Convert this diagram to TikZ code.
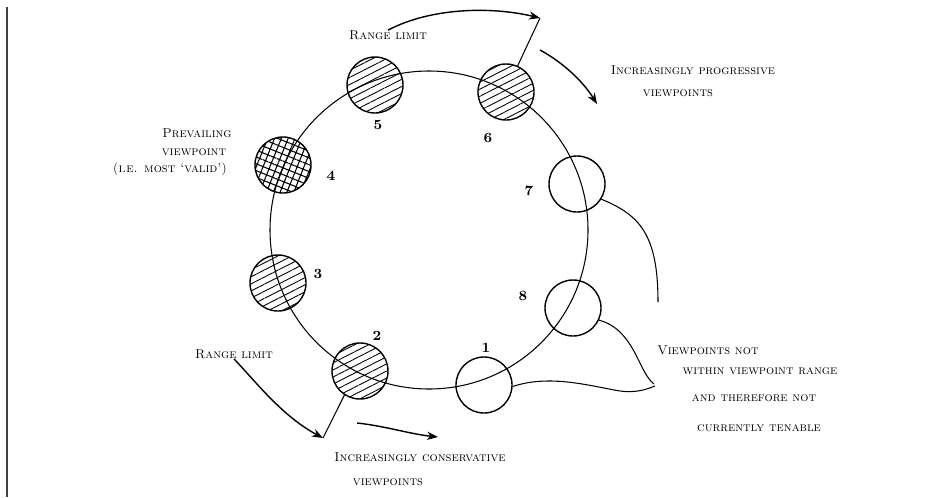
\documentclass[tikz,border=0pt]{standalone}
\usepackage{fontspec}
\usepackage{tikz}
\usetikzlibrary{arrows.meta,patterns.meta}
\newcommand\handfont{\fontsize{7.3}{8}\selectfont\scshape\addfontfeatures{LetterSpace=12,WordSpace=2.6}}
\tikzset{
  vp/.style={circle, draw=black, line width=0.8pt, minimum size=11.2mm, inner sep=0pt},
  hatched/.style={vp, pattern={Lines[angle=27,distance=3.6pt,line width=0.5pt]}},
  crossed/.style={vp, pattern={Hatch[angle=-22,distance=3.6pt,line width=0.6pt]}},
  num/.style={font=\footnotesize\bfseries, inner sep=0pt},
  note/.style={font=\handfont, inner sep=0pt},
  arr/.style={-{Stealth[length=2.2mm]}, thick},
  link/.style={line width=0.6pt},
}
\begin{document}
\begin{tikzpicture}[x=0.2mm,y=-0.2mm]
  \useasboundingbox (0,0) rectangle (925,497);
  % page edge
  \draw[black!75,line width=0.5mm] (7,7) -- (7,497);
  % the range of viewpoints
  \draw[line width=0.6pt] (429,230) circle[radius=31.8mm];
  \node[hatched] (v2) at (360,371) {};
  \node[hatched] (v3) at (278,283) {};
  \node[crossed] (v4) at (283,165) {};
  \node[hatched] (v5) at (375,85) {};
  \node[hatched] (v6) at (506,92) {};
  \node[vp] (v7) at (577,184) {};
  \node[vp] (v8) at (573,308) {};
  \node[vp] (v1) at (484,385) {};
  \node[num] (n1) at (486,348) {1};
  \node[num] (n2) at (377,336) {2};
  \node[num] (n3) at (318,274) {3};
  \node[num] (n4) at (331,176) {4};
  \node[num] (n5) at (378,125) {5};
  \node[num] (n6) at (488,138) {6};
  \node[num] (n7) at (529,191) {7};
  \node[num] (n8) at (523,296) {8};
  % upper range limit
  \node[note] (limtop) at (388,35) {Range limit};
  \coordinate (topend) at (540,18);
  \draw[arr] (limtop.north) .. controls (430,8) and (490,6) .. (topend);
  \draw[link] (v6.66) -- (topend);
  \coordinate (progA) at (540,50);
  \coordinate (progB) at (597,104);
  \draw[arr] (progA) .. controls (562,62) and (582,80) .. (progB);
  \node[note] (prog1) at (693,70) {Increasingly progressive};
  \node[note] (prog2) at (678,93) {viewpoints};
  % prevailing viewpoint
  \node[note] (prev1) at (197,133) {Prevailing};
  \node[note] (prev2) at (194,152) {viewpoint};
  \node[note] (prev3) at (170,169) {(i.e. most `valid')};
  % lower range limit
  \node[note] (limbot) at (234,354) {Range limit};
  \coordinate (botend) at (323,438);
  \draw[arr] (limbot.south) .. controls (256,382) and (282,416) .. (botend);
  \draw[link] (v2.237) -- (botend);
  \coordinate (consA) at (357,423);
  \coordinate (consB) at (438,437);
  \draw[arr] (consA) .. controls (385,426) and (410,434) .. (consB);
  \node[note] (cons1) at (420,457) {Increasingly conservative};
  \node[note] (cons2) at (388,482) {viewpoints};
  % viewpoints outside the range
  \draw[link] (v7.-32) .. controls (640,215) and (658,235) .. (658,302);
  \draw[link] (v8.-25) .. controls (635,330) and (638,372) .. (654,384);
  \draw[link] (v1.-3) .. controls (550,374) and (590,386) .. (620,391)
    .. controls (635,393) and (645,390) .. (655,386);
  \node[note] (out1) at (708,350) {Viewpoints not};
  \node[note] (out2) at (760,371) {within viewpoint range};
  \node[note] (out3) at (754,398) {and therefore not};
  \node[note] (out4) at (759,428) {currently tenable};
\end{tikzpicture}
\end{document}
